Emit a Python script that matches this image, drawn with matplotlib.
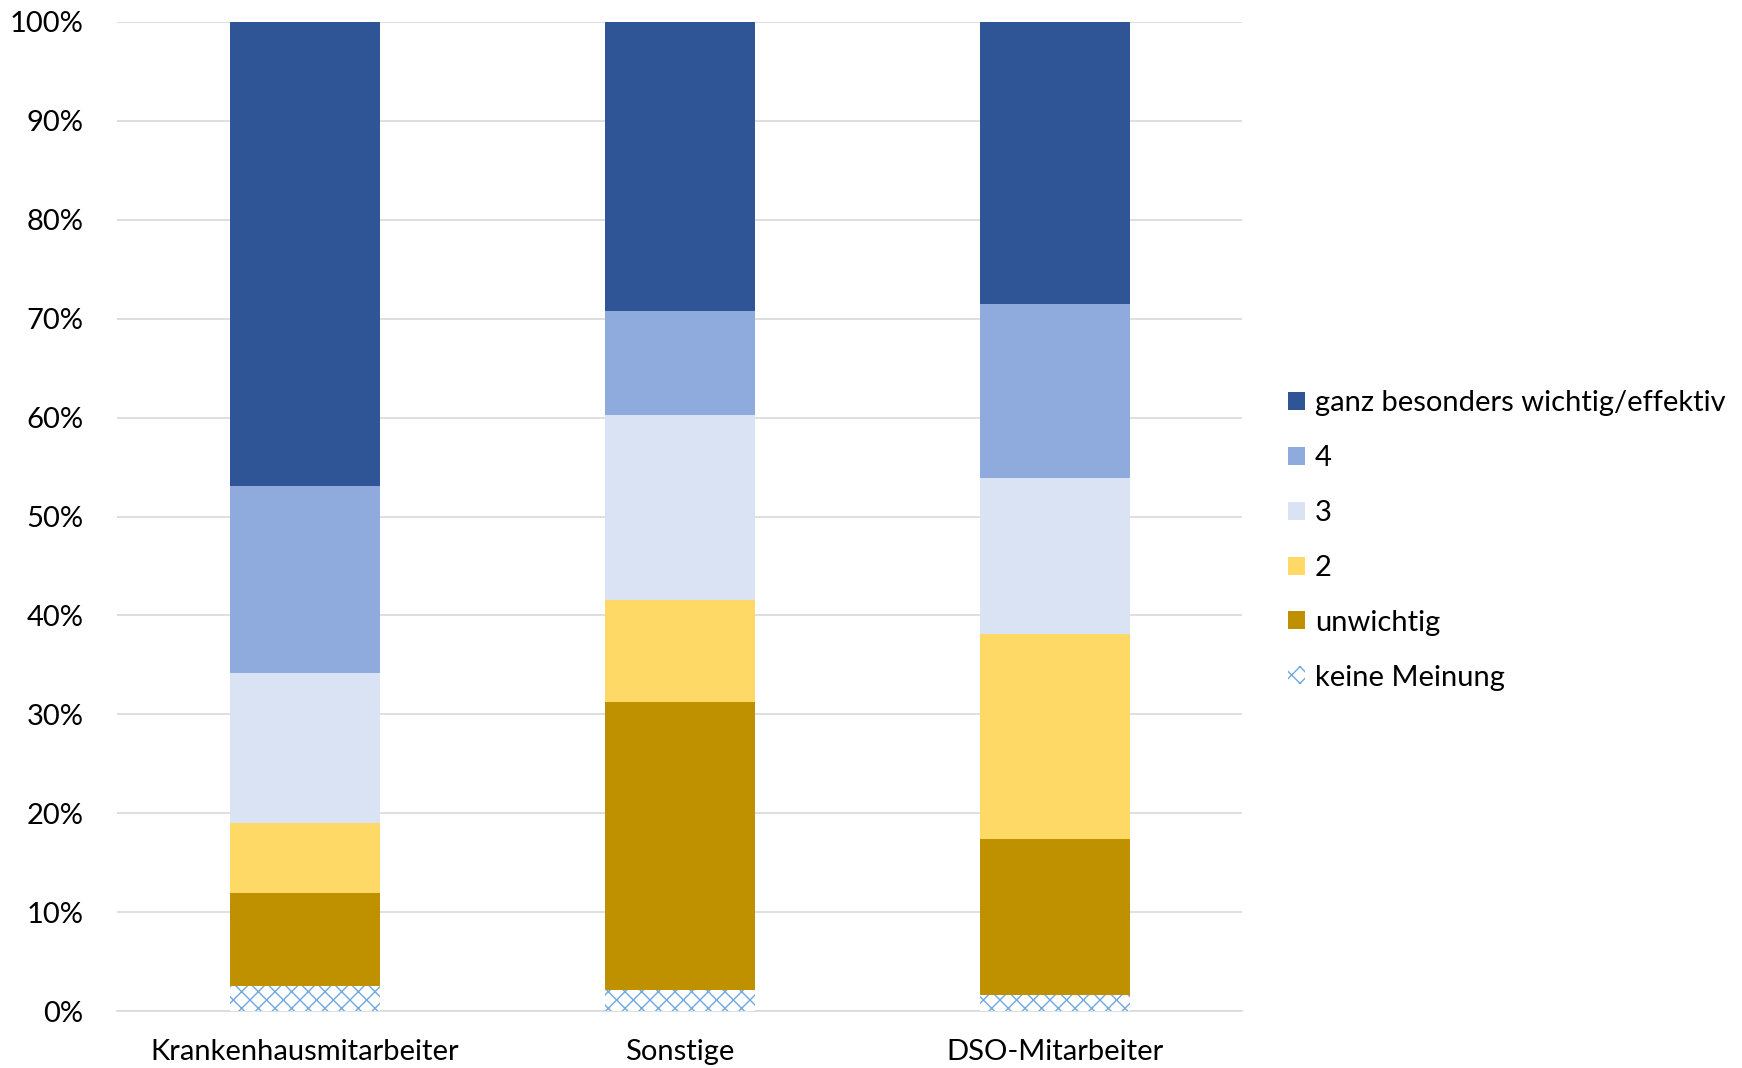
import matplotlib.pyplot as plt
import numpy as np

# data (percent of answers)
categories = ['Krankenhausmitarbeiter', 'Sonstige', 'DSO-Mitarbeiter']
series_names = ['keine Meinung', 'unwichtig', '2', '3', '4',
                'ganz besonders wichtig/effektiv']
keine_meinung = [2.5, 2.1, 1.6]
unwichtig = [9.4, 29.1, 15.8]
stufe_2 = [7.1, 10.4, 20.7]
stufe_3 = [15.2, 18.7, 15.8]
stufe_4 = [18.9, 10.5, 17.6]
ganz_besonders = [46.9, 29.2, 28.5]
yticks = [0, 10, 20, 30, 40, 50, 60, 70, 80, 90, 100]

colors = ['white', '#bf9000', '#ffd966', '#dae3f3', '#8faadc', '#2f5597']

plt.rcParams['font.family'] = ['Lato', 'DejaVu Sans']
plt.rcParams['hatch.linewidth'] = 1.0

fig = plt.figure(figsize=(17.42, 10.68), dpi=100)
ax = fig.add_axes([117 / 1742, 1 - 1011 / 1068, 1125 / 1742, 989 / 1068])

x = np.arange(len(categories))
values = [keine_meinung, unwichtig, stufe_2, stufe_3, stufe_4, ganz_besonders]
bottom = np.zeros(len(categories))
handles = []
for name, vals, col in zip(series_names, values, colors):
    if name == 'keine Meinung':
        b = ax.bar(x, vals, 0.4, bottom=bottom, color='white',
                   edgecolor='#6fa8dc', hatch='xx', linewidth=0, label=name, zorder=3)
    else:
        b = ax.bar(x, vals, 0.4, bottom=bottom, color=col, linewidth=0,
                   label=name, zorder=3)
    handles.append(b)
    bottom += np.array(vals)

ax.set_xlim(-0.5, 2.5)
ax.set_ylim(0, 100)
ax.set_yticks(yticks)
ax.set_yticklabels([f'{t}%' for t in yticks])
ax.set_xticks(x)
ax.set_xticklabels(categories)
ax.tick_params(axis='both', length=0, labelsize=21, colors='black')
ax.tick_params(axis='y', pad=24)
ax.tick_params(axis='x', pad=20)
ax.grid(axis='y', color='#d9d9d9', linewidth=1.2, zorder=0)
for s in ['top', 'right', 'left']:
    ax.spines[s].set_visible(False)
ax.spines['bottom'].set_color('#d9d9d9')
ax.spines['bottom'].set_linewidth(1.2)

leg = fig.legend(handles[::-1], series_names[::-1], loc='upper left',
                 bbox_to_anchor=(1262 / 1742, 1 - 364 / 1068), frameon=False,
                 fontsize=21, handlelength=0.57, handleheight=0.57,
                 handletextpad=0.35, labelspacing=0.99)

plt.savefig('out.png')
